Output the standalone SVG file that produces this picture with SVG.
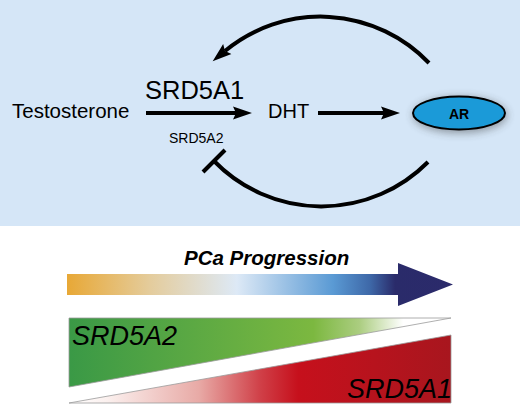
<svg xmlns="http://www.w3.org/2000/svg" width="520" height="405" viewBox="0 0 520 405">
<style>
.t{font-family:"Liberation Sans",Arial,sans-serif;fill:#000}
.ln{stroke:#000;stroke-width:4;fill:none}
</style>
<defs>
<marker id="ah" markerUnits="userSpaceOnUse" markerWidth="20" markerHeight="14" refX="3" refY="7" orient="auto">
<path d="M0,0.5 L19,7 L0,13.5 L3,7 Z" fill="#000"/>
</marker>
<filter id="sh" x="-40%" y="-80%" width="180%" height="260%">
<feGaussianBlur stdDeviation="4"/>
</filter>
<linearGradient id="prog" gradientUnits="userSpaceOnUse" x1="67" y1="0" x2="453" y2="0">
<stop offset="0" stop-color="#e8a836"/>
<stop offset="0.215" stop-color="#e4cc9c"/>
<stop offset="0.44" stop-color="#dde9f6"/>
<stop offset="0.689" stop-color="#5a9ad4"/>
<stop offset="0.785" stop-color="#3e68a8"/>
<stop offset="0.85" stop-color="#2a2b6a"/>
<stop offset="1" stop-color="#2b2a6b"/>
</linearGradient>
<linearGradient id="grn" gradientUnits="userSpaceOnUse" x1="69" y1="0" x2="451" y2="0">
<stop offset="0" stop-color="#3a9946"/>
<stop offset="0.64" stop-color="#7cb840"/>
<stop offset="0.76" stop-color="#abcd80"/>
<stop offset="0.875" stop-color="#ffffff"/>
<stop offset="1" stop-color="#ffffff"/>
</linearGradient>
<linearGradient id="red" gradientUnits="userSpaceOnUse" x1="69" y1="0" x2="451" y2="0">
<stop offset="0" stop-color="#ffffff"/>
<stop offset="0.1" stop-color="#fbf0ee"/>
<stop offset="0.34" stop-color="#e8aaa6"/>
<stop offset="0.5" stop-color="#d04048"/>
<stop offset="0.6" stop-color="#c6101c"/>
<stop offset="1" stop-color="#a8161e"/>
</linearGradient>
</defs>
<rect x="0" y="0" width="520" height="226" fill="#d5e6f7"/>
<rect x="0" y="226" width="520" height="179" fill="#fff"/>

<g id="connectors">
<line class="ln" x1="146" y1="113" x2="236" y2="113" marker-end="url(#ah)"/>
<line class="ln" x1="318" y1="113" x2="384" y2="113" marker-end="url(#ah)"/>
<path class="ln" d="M429 63 A150 150 0 0 0 225 51" marker-end="url(#ah)"/>
<path class="ln" d="M428 162 A150 150 0 0 1 214 161"/>
<line class="ln" x1="203" y1="172" x2="225" y2="150"/>
</g>

<g id="testosterone"><text class="t" x="12" y="118" font-size="20.5">Testosterone</text></g>
<g id="srd5a1-label"><text class="t" x="145" y="99" font-size="25.5">SRD5A1</text></g>
<g id="srd5a2-label"><text class="t" x="169" y="143" font-size="14">SRD5A2</text></g>
<g id="dht"><text class="t" x="268" y="118" font-size="20">DHT</text></g>
<g id="ar">
<ellipse cx="460" cy="115" rx="47" ry="18" fill="#333" opacity="0.45" filter="url(#sh)"/>
<ellipse cx="459" cy="113" rx="46" ry="16.5" fill="#1b9ad8" stroke="#000" stroke-width="2"/>
<text class="t" x="459" y="118.5" font-size="14" font-weight="bold" text-anchor="middle">AR</text>
</g>

<g id="progression">
<path d="M67 274 L398 274 L398 263 L453 284.5 L398 306 L398 295 L67 295 Z" fill="url(#prog)"/>
<text class="t" x="184" y="265" font-size="20.5" font-weight="bold" font-style="italic">PCa Progression</text>
</g>
<g id="srd5a2-wedge">
<path d="M69 318 L451 318 L69 387 Z" fill="url(#grn)" stroke="#9a9a9a" stroke-width="0.8"/>
<text class="t" x="72" y="345" font-size="27" font-style="italic">SRD5A2</text>
</g>
<g id="srd5a1-wedge">
<path d="M69 403 L451 335 L451 403 Z" fill="url(#red)" stroke="#9a9a9a" stroke-width="0.8"/>
<text class="t" x="347" y="398" font-size="27" font-style="italic">SRD5A1</text>
</g>
</svg>
